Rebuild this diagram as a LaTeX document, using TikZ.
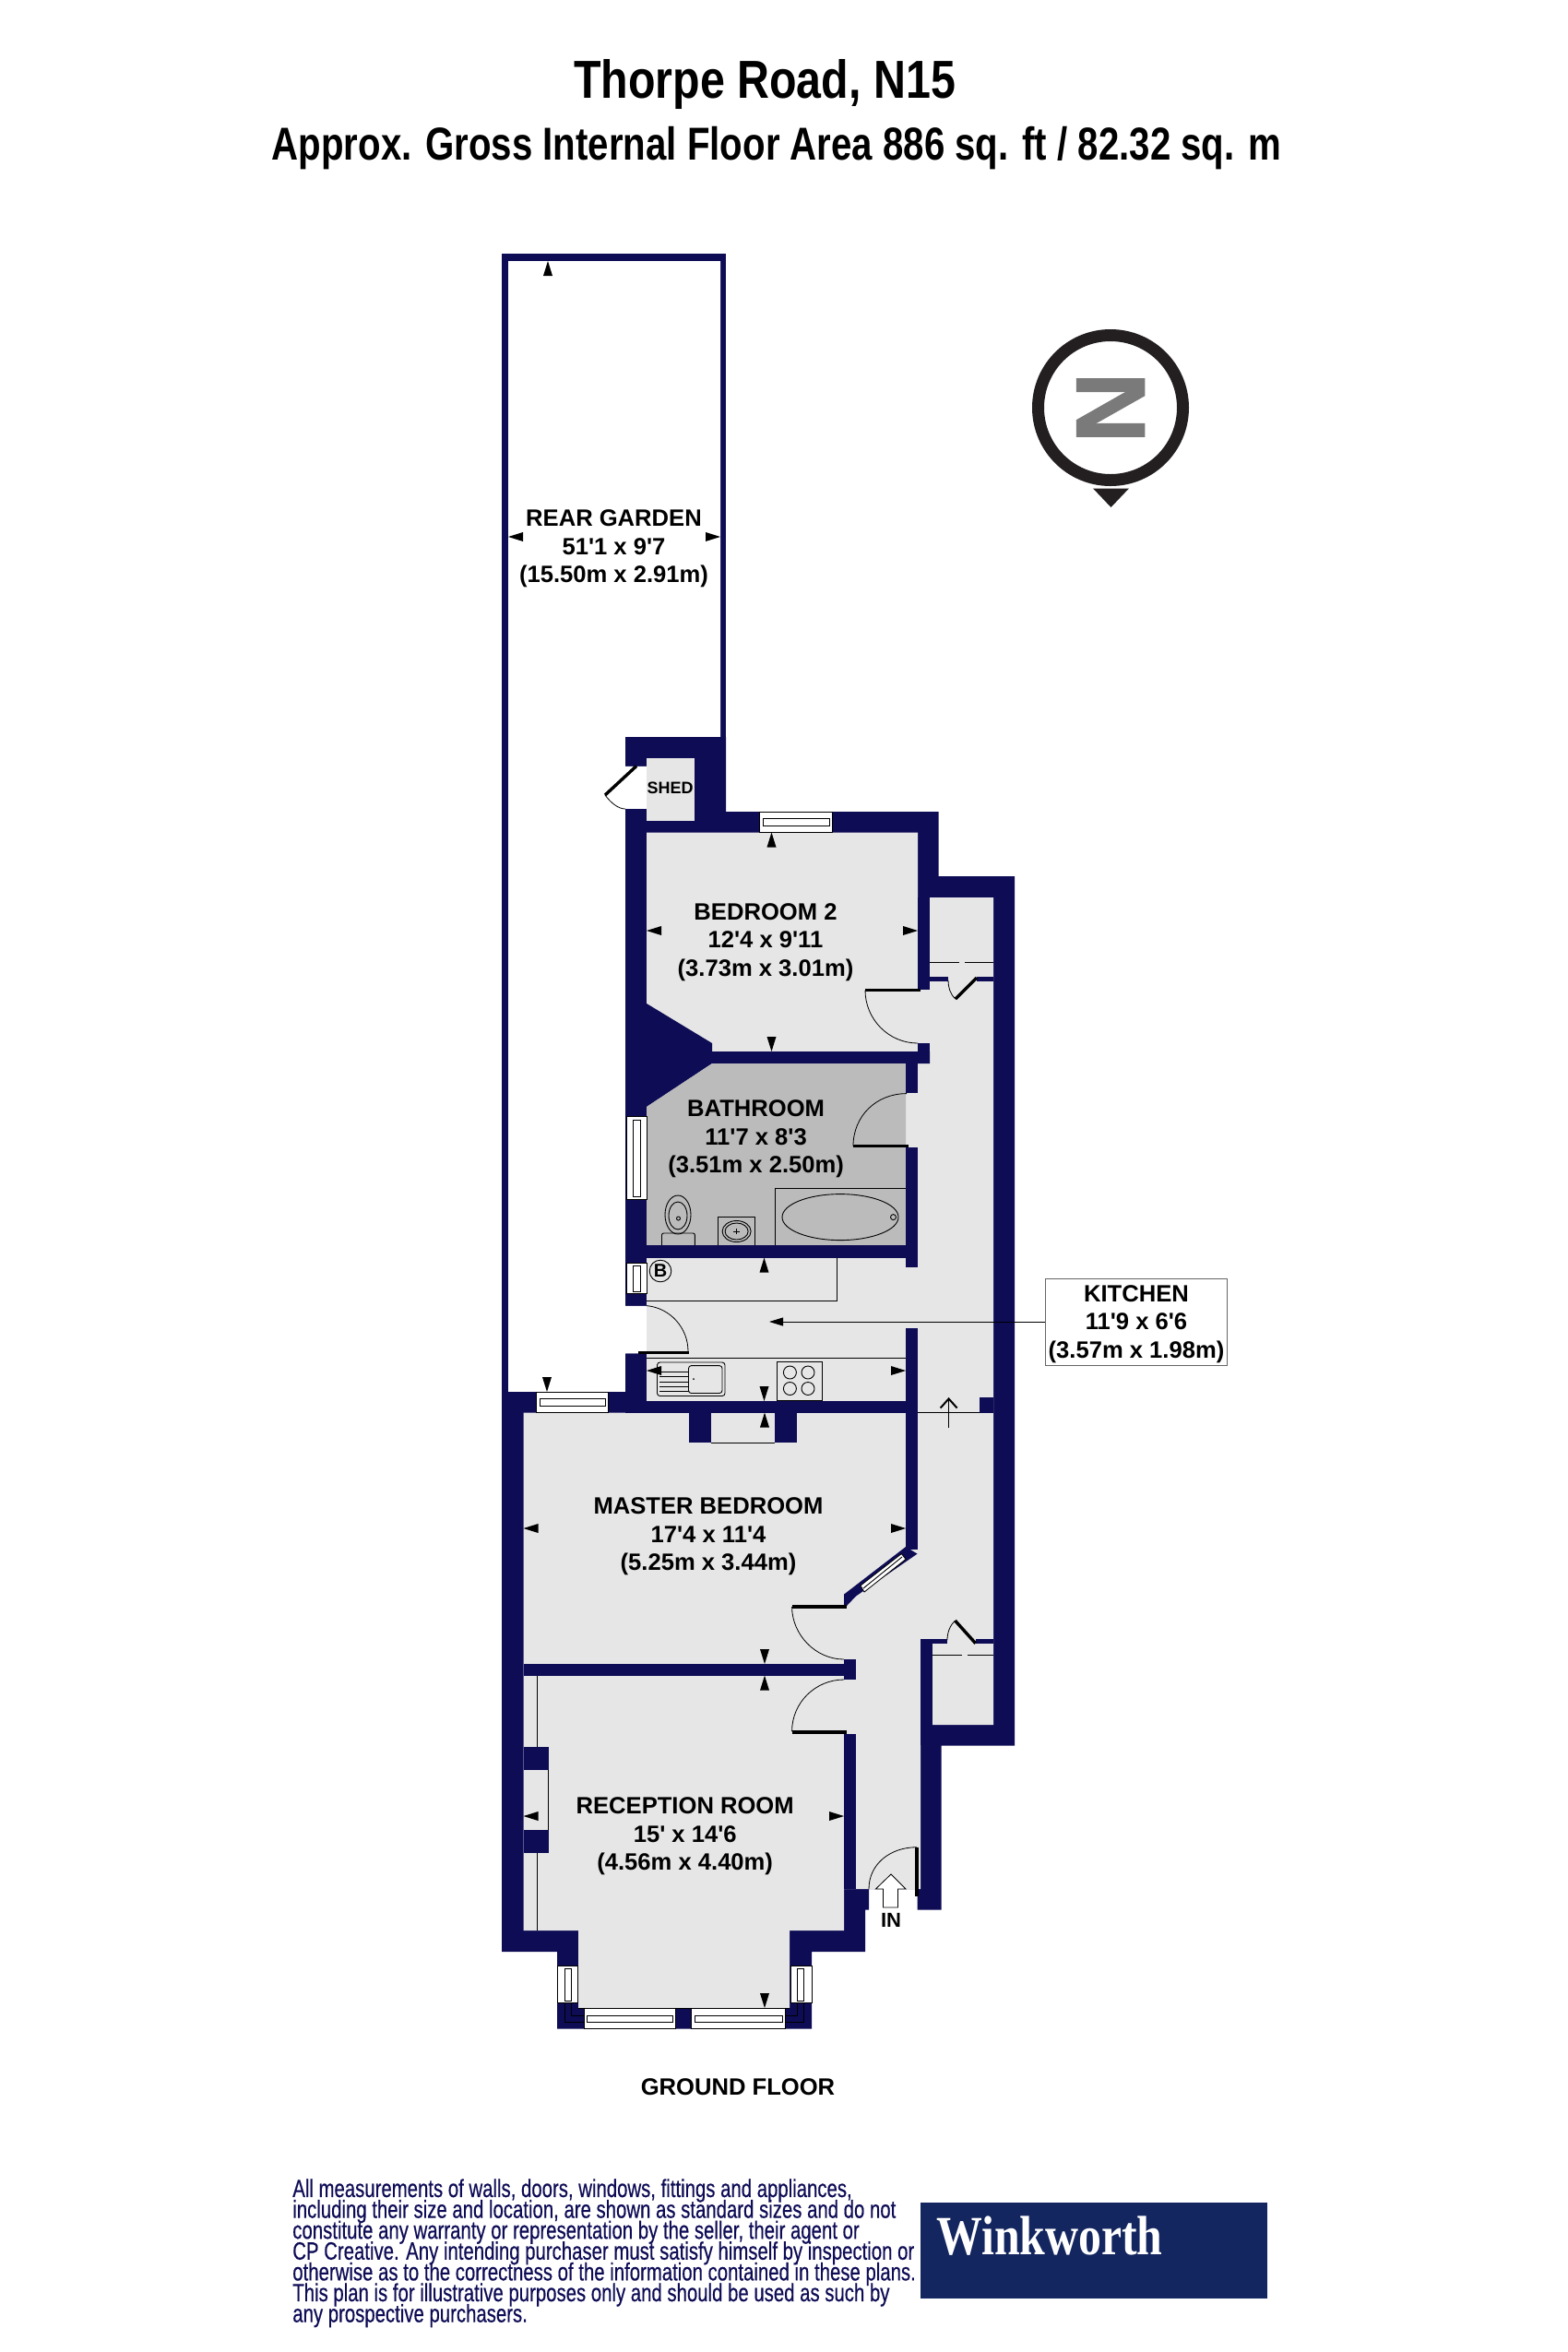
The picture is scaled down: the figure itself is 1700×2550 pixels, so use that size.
\documentclass[tikz,border=0pt]{standalone}
\usepackage{fontspec}
\setmainfont{Liberation Sans}[Ligatures=TeXOff]
\newfontfamily\logofont{Liberation Serif}
\newfontfamily\noticefont[FakeBold=0.5]{Liberation Sans}
\newfontfamily\northfont[UprightFont=* Bold, FakeBold=1.5]{Liberation Sans}
\newcommand{\noticesize}{\noticefont\fontsize{13.5}{11.3}\selectfont\setlength{\lineskiplimit}{-6pt}}
\usetikzlibrary{arrows.meta}
\definecolor{wallnavy}{HTML}{0E0C55}
\definecolor{floorgrey}{HTML}{E6E6E6}
\definecolor{bathgrey}{HTML}{BBBBBB}
\definecolor{logonavy}{HTML}{14265F}
\definecolor{compassblack}{HTML}{231F20}
\tikzset{wall/.style={fill=wallnavy, draw=none}}
\tikzset{floorarea/.style={fill=floorgrey, draw=none}}
\tikzset{thinline/.style={draw=black, line width=0.45pt}}
\tikzset{leaf/.style={draw=black, line width=1.7pt}}
\tikzset{swing/.style={draw=black, line width=0.4pt}}
\tikzset{pane/.style={fill=white, draw=black, line width=0.4pt}}
\tikzset{roomlabel/.style={align=center, inner sep=0pt, font=\fontsize{12.8}{15.3}\selectfont\bfseries}}
\tikzset{titlelabel/.style={inner sep=0pt, transform shape, font=\bfseries}}
\tikzset{dimtip/.pic={\fill[black] (0,0) -- (16,-5) -- (16,5) -- cycle;}}
\begin{document}
\begin{tikzpicture}[x=0.5pt, y=-0.5pt]
\useasboundingbox (0,0) rectangle (1700,2550);

% heading
\node[titlelabel, xscale=0.834, font=\fontsize{29}{30}\selectfont\bfseries] (title) at (829,91) {Thorpe Road, N15};
\node[titlelabel, xscale=0.804, font=\fontsize{25}{26}\selectfont\bfseries] (subtitle) at (842,161) {Approx. Gross Internal Floor Area 886 sq. ft / 82.32 sq. m};

% north symbol
\draw[compassblack, line width=6.5pt] (1204,442) circle (78.5);
\fill[compassblack] (1185,529.5) -- (1224,529.5) -- (1204.5,550) -- cycle;
\node[inner sep=0pt, rotate=90, text=black!52, font=\northfont\fontsize{53}{53}\selectfont] (north) at (1204,442) {N};

% garden
\fill[wall] (544,275) rectangle (787,1509);
\fill[white] (551,283) -- (781,283) -- (781,799) -- (678,799) -- (678,830.5) -- (701,830.5) -- (701,877) -- (678,877)
  -- (678,1415.6) -- (701,1415.6) -- (701,1467.6) -- (678,1467.6) -- (678,1509) -- (551,1509) -- cycle;

% footprint
\fill[wall] (678,799) -- (787,799) -- (787,880) -- (1017.5,880) -- (1017.5,950) -- (1100,950)
  -- (1100,1892.7) -- (1020.6,1892.7) -- (1020.6,2070.7) -- (994.5,2070.7) -- (994.5,2048)
  -- (942,2048) -- (942,2070.7) -- (938,2070.7) -- (938,2116) -- (880,2116) -- (880,2199.7)
  -- (604,2199.7) -- (604,2116) -- (544,2116) -- (544,1509) -- (678,1509) -- (678,1467.6)
  -- (701,1467.6) -- (701,1415.6) -- (678,1415.6) -- (678,877) -- (701,877) -- (701,830.5)
  -- (678,830.5) -- cycle;

% floors
\fill[floorarea] (701,822) rectangle (753,890);
\fill[floorarea] (701,902.5) -- (995,902.5) -- (995,973) -- (1077,973) -- (1077,1870) -- (998,1870)
  -- (998,2048) -- (915,2048) -- (915,2093) -- (856,2093) -- (856,2177) -- (627,2177) -- (627,2093)
  -- (567.5,2093) -- (567.5,1531.5) -- (701,1531.5) -- cycle;

% inner walls, upper half
\fill[wall] (701,1088) -- (772,1131) -- (772,1140) -- (1008,1140) -- (1008,1153) -- (772,1153) -- (701,1200) -- cycle;
\fill[wall] (995,973) rectangle (1008,1073);
\fill[wall] (995,1131) rectangle (1008,1153);
\fill[wall] (1008,1059) rectangle (1028,1064);
\fill[wall] (1059,1059) rectangle (1077,1064);
\fill[bathgrey] (772,1153) -- (982,1153) -- (982,1350) -- (701,1350) -- (701,1200) -- cycle;
\fill[wall] (982,1153) rectangle (994.5,1185);
\fill[wall] (982,1244) rectangle (994.5,1373.5);
\fill[wall] (701,1350) rectangle (994.5,1363.6);
\fill[wall] (982,1439.7) rectangle (994.5,1680);
\fill[wall] (678,1519) rectangle (994.5,1531.5);
\fill[wall] (747,1531.5) rectangle (770.7,1564);
\fill[wall] (839.5,1531.5) rectangle (863.6,1564);
\fill[wall] (1062,1515) rectangle (1077,1531.5);
\fill[wall] (982,1677) -- (994.5,1684.6) -- (928,1730.5) -- (918,1741) -- (915,1741) -- (915,1728.6) -- cycle;

% inner walls, lower half
\fill[wall] (567.5,1804) rectangle (928,1816.6);
\fill[wall] (915,1799) rectangle (928,1821);
\fill[wall] (915,1880) rectangle (928,2048);
\fill[wall] (998,1777) rectangle (1011,1892);
\fill[wall] (1011,1777) rectangle (1027,1781.7);
\fill[wall] (1057.7,1777) rectangle (1077,1781.7);
\fill[wall] (567.5,1894) rectangle (594.6,1919);
\fill[wall] (567.5,1984) rectangle (594.6,2008.7);

% windows
\filldraw[pane] (823.5,880) rectangle (902,902.5);
\draw[thinline] (827,887) rectangle (899,895.5);
\filldraw[pane] (679,1210.5) rectangle (701,1300.5);
\draw[thinline] (686,1214) rectangle (694,1297);
\filldraw[pane] (679,1369.6) rectangle (701,1402.6);
\draw[thinline] (686,1372) rectangle (694,1400);
\filldraw[pane] (581,1509) rectangle (659,1531.5);
\draw[thinline] (585,1516) rectangle (656,1524);
\filldraw[pane] (977.3,1684.6) -- (982,1690.4) -- (937,1726) -- (933,1719) -- cycle;
\draw[thinline] (978,1688) -- (936,1722);
\filldraw[pane] (604.6,2131.7) rectangle (626.4,2171);
\draw[thinline] (612,2134) rectangle (619.5,2169);
\filldraw[pane] (857,2131.7) rectangle (880,2171);
\draw[thinline] (864,2134) rectangle (871,2169);
\filldraw[pane] (633,2177) rectangle (732.4,2199.7);
\draw[thinline] (636,2185) rectangle (729,2192);
\filldraw[pane] (749.6,2177) rectangle (851,2199.7);
\draw[thinline] (753,2185) rectangle (848,2192);
\draw[thinline] (612,2171) -- (612,2192) -- (633,2192);
\draw[thinline] (619.5,2171) -- (619.5,2185) -- (633,2185);
\draw[thinline] (871,2171) -- (871,2192) -- (851,2192);
\draw[thinline] (864,2171) -- (864,2185) -- (851,2185);
\draw[thinline] (627,2177) -- (856,2177);

% doors
\draw[leaf] (690,830.5) -- (656,862);
\draw[swing] (656,862) .. controls (662,870) and (670,877) .. (678,877);
\draw[leaf] (997.6,1073.5) -- (938,1073.5);
\draw[swing] (938,1073.5) .. controls (938,1105) and (963.5,1131) .. (995,1131);
\draw[leaf] (1059,1060) -- (1036,1083);
\draw[swing] (1036,1083) .. controls (1030,1078) and (1028,1070) .. (1028,1063);
\draw[leaf] (925,1242.6) -- (985,1242.6);
\draw[swing] (925,1242.6) .. controls (925,1210) and (950,1185.6) .. (983,1185.6);
\draw[leaf] (692,1466.5) -- (746.5,1466.5);
\draw[swing] (701,1415.6) .. controls (727,1418) and (746,1440) .. (746,1465);
\draw[leaf] (858.6,1742) -- (918,1742);
\draw[swing] (858.6,1742) .. controls (858.6,1772) and (884,1799) .. (915,1799);
\draw[leaf] (858.6,1878) -- (918,1878);
\draw[swing] (858.6,1877) .. controls (858.6,1846) and (884,1821) .. (915,1821);
\draw[leaf] (1057.7,1781.7) -- (1035.5,1757);
\draw[swing] (1035.5,1757) .. controls (1030,1762) and (1027,1770) .. (1027,1778);
\draw[leaf] (994,2002.7) -- (994,2056);
\draw[swing] (942,2048) .. controls (942,2021) and (965,2002.7) .. (994,2002.7);

% cupboards and fitted units
\draw[thinline, dash pattern=on 16pt off 3pt] (1008,1043) -- (1077,1043);
\draw[thinline, dash pattern=on 16pt off 3pt] (1011,1794) -- (1077,1794);
\draw[thinline] (907.6,1363.6) -- (907.6,1410) -- (701,1410);
\draw[thinline] (701,1472) -- (982,1472);
\draw[thinline] (770.7,1564) -- (839.5,1564);
\draw[thinline] (994.5,1531.5) -- (1062,1531.5);
\draw[thinline] (582.4,1816.6) -- (582.4,1894);
\draw[thinline] (582.4,2008.7) -- (582.4,2093);
\draw[thinline] (594.6,1919) -- (594.6,1984);

% bath
\draw[thinline] (840,1350) -- (840,1288.6) -- (982,1288.6);
\draw[thinline] (911,1319.6) ellipse (63 and 25);
\draw[thinline] (968.5,1319.6) circle (3);
% toilet
\draw[thinline, rounded corners=1pt] (717.5,1350) -- (717.5,1337) -- (753.4,1337) -- (753.4,1350);
\draw[thinline] (735,1317) ellipse (14 and 21);
\draw[thinline] (735,1318) ellipse (10 and 15);
\draw[thinline] (735.5,1321) circle (2);
% basin
\draw[thinline] (778,1350) -- (778,1319.6) -- (818.5,1319.6) -- (818.5,1350);
\draw[thinline] (798.6,1335) ellipse (15.5 and 11.5);
\draw[thinline] (798.6,1335) ellipse (12.5 and 9);
\draw[thinline] (795,1335) -- (802,1335);
\draw[thinline] (798.6,1332) -- (798.6,1338);
% sink
\draw[thinline, rounded corners=1.5pt] (712.5,1477) rectangle (786,1513.5);
\draw[thinline, rounded corners=1.5pt] (746.5,1480.6) rectangle (783,1510.5);
\draw[thinline] (715,1487.5) -- (746.5,1487.5);
\draw[thinline] (715,1492.5) -- (746.5,1492.5);
\draw[thinline] (715,1498) -- (746.5,1498);
\draw[thinline] (715,1503) -- (746.5,1503);
\draw[thinline] (715,1508.6) -- (746.5,1508.6);
\fill[black] (752,1495) circle (1);
% hob
\draw[thinline] (842,1476) rectangle (891,1518);
\draw[thinline] (856.4,1488) circle (7);
\draw[thinline] (876,1488) circle (7);
\draw[thinline] (856.4,1505.5) circle (7);
\draw[thinline] (876,1505.5) circle (7);

% room measures
\pic[rotate=-90] at (594,283) {dimtip};
\pic at (551,582) {dimtip};
\pic[rotate=180] at (781,582) {dimtip};
\pic[rotate=-90] at (836.5,902.5) {dimtip};
\pic at (701,1009) {dimtip};
\pic[rotate=180] at (995,1009) {dimtip};
\pic[rotate=90] at (836.5,1140) {dimtip};
\pic[rotate=-90] at (828.5,1363.6) {dimtip};
\pic at (701,1486) {dimtip};
\pic[rotate=180] at (982,1486) {dimtip};
\pic[rotate=90] at (828.5,1519) {dimtip};
\pic[rotate=-90] at (829,1531.5) {dimtip};
\pic[rotate=90] at (593,1509) {dimtip};
\pic at (567.5,1657) {dimtip};
\pic[rotate=180] at (982,1657) {dimtip};
\pic[rotate=90] at (829,1804) {dimtip};
\pic[rotate=-90] at (829,1816.6) {dimtip};
\pic at (567.5,1969) {dimtip};
\pic[rotate=180] at (915,1969) {dimtip};
\pic[rotate=90] at (829,2177) {dimtip};

% way in
\filldraw[pane] (966,2032) -- (982,2048) -- (973.5,2048) -- (973.5,2068) -- (957.4,2068) -- (957.4,2048) -- (949.4,2048) -- cycle;
\draw[black, line width=0.5pt, -{Straight Barb[length=5pt, width=9pt, line width=1pt]}] (1028.6,1548) -- (1028.6,1515);

% boiler
\node[draw=black, circle, line width=0.45pt, minimum size=11.8pt, inner sep=0pt, font=\fontsize{10}{10}\selectfont\bfseries] (boiler) at (716,1378) {B};

% labels
\node[roomlabel] (garden) at (665.5,595) {REAR GARDEN\\51'1 x 9'7\\(15.50m x 2.91m)};
\node[roomlabel, font=\fontsize{9}{10}\selectfont\bfseries] (shed) at (726.6,854) {SHED};
\node[roomlabel] (bedroomtwo) at (830,1021.5) {BEDROOM 2\\12'4 x 9'11\\(3.73m x 3.01m)};
\node[roomlabel] (bathroom) at (819.6,1235) {BATHROOM\\11'7 x 8'3\\(3.51m x 2.50m)};
\node[roomlabel] (master) at (768,1666) {MASTER BEDROOM\\17'4 x 11'4\\(5.25m x 3.44m)};
\node[roomlabel] (reception) at (742.7,1991) {RECEPTION ROOM\\15' x 14'6\\(4.56m x 4.40m)};
\node[roomlabel, font=\fontsize{11}{12}\selectfont\bfseries] (way) at (966,2082) {IN};
\node[roomlabel] (floorname) at (800,2263) {GROUND FLOOR};

% kitchen key
\node[roomlabel, draw=black!60, line width=0.5pt, fill=white, minimum width=98.5pt, minimum height=47pt, text depth=0pt] (kitchen) at (1232,1433) {KITCHEN\\11'9 x 6'6\\(3.57m x 1.98m)};
\coordinate (kitchentip) at (834,1433);
\draw[black, line width=0.45pt, -{Triangle[length=7.5pt, width=4.5pt]}] (kitchen.west) -- (kitchentip);

% footer
\node[anchor=north west, inner sep=0pt, align=left, text=wallnavy, transform shape, xscale=0.754,
  font=\noticesize] (disclaimer) at (317,2362)
  {All measurements of walls, doors, windows, fittings and appliances,\\
   including their size and location, are shown as standard sizes and do not\\
   constitute any warranty or representation by the seller, their agent or\\
   CP Creative. Any intending purchaser must satisfy himself by inspection or\\
   otherwise as to the correctness of the information contained in these plans.\\
   This plan is for illustrative purposes only and should be used as such by\\
   any prospective purchasers.};
\fill[logonavy] (998,2388) rectangle (1374,2492);
\node[inner sep=0pt, text=white, transform shape, xscale=0.83, font=\logofont\fontsize{30}{30}\selectfont\bfseries] (logo) at (1138,2424) {Winkworth};

\end{tikzpicture}
\end{document}
